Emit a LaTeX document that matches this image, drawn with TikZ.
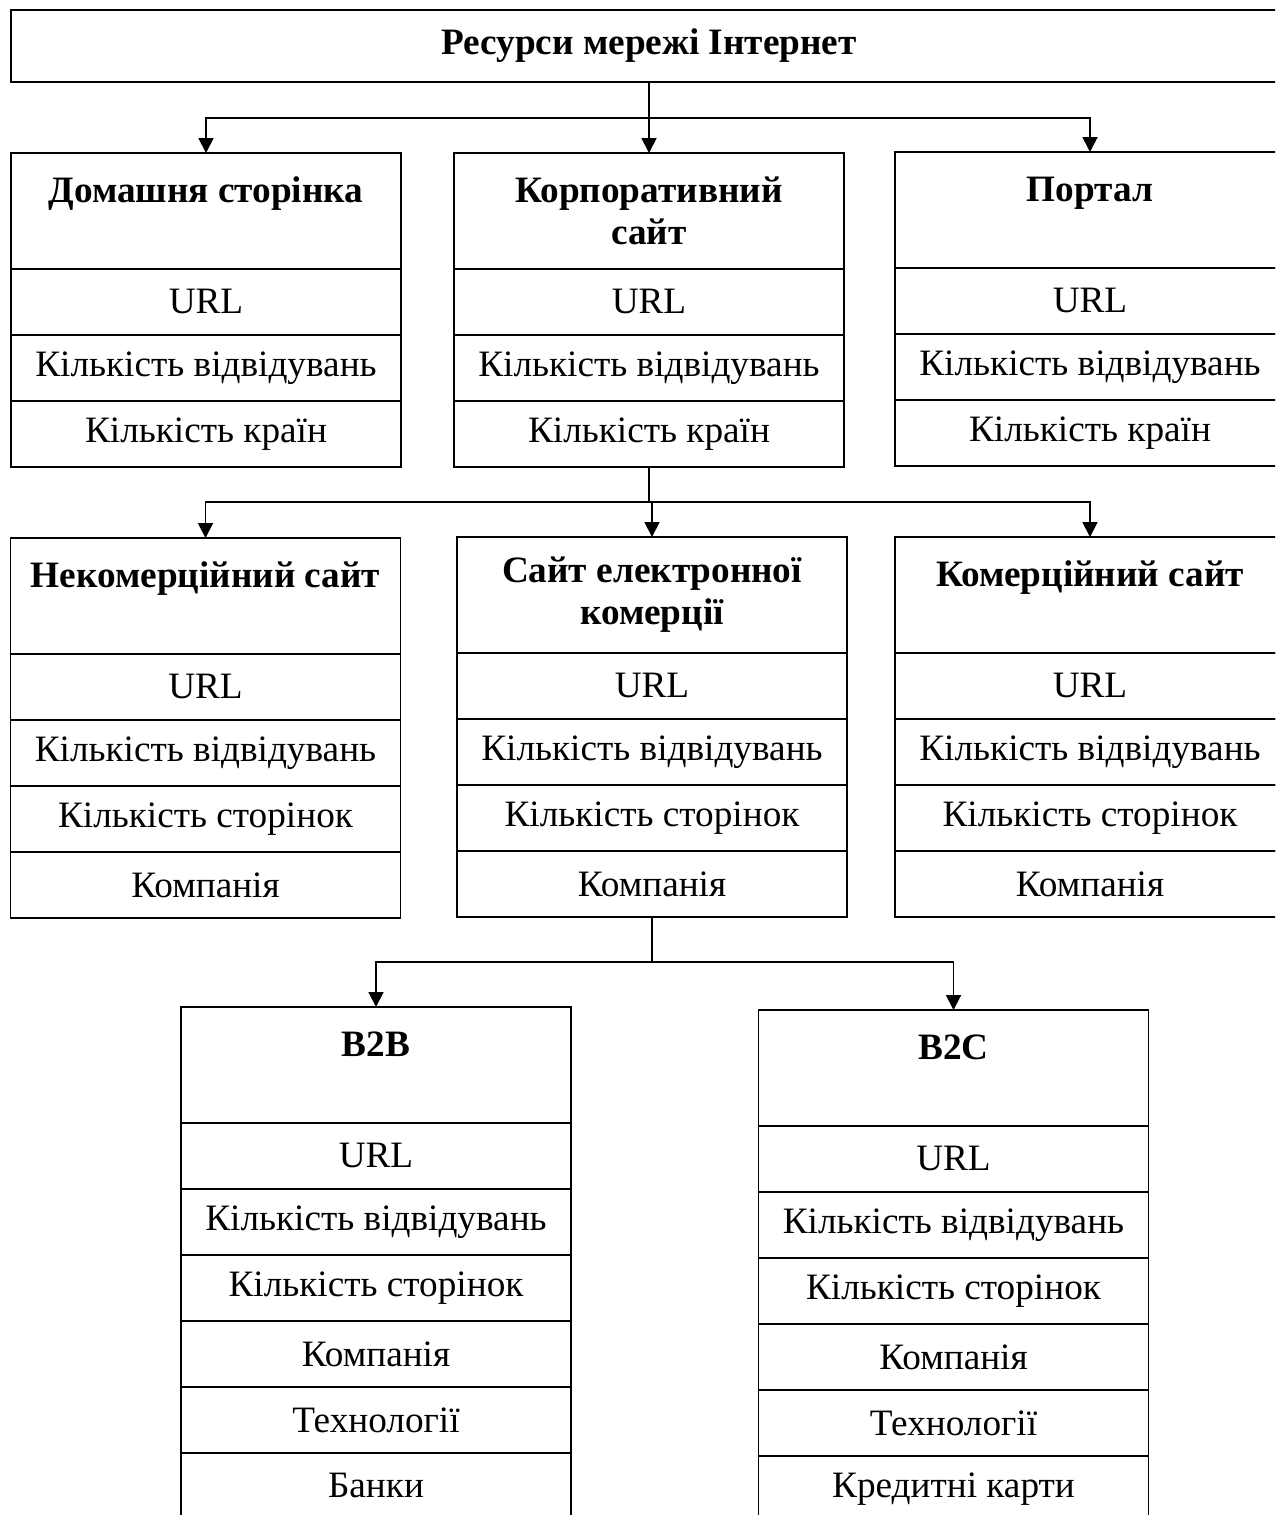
\documentclass[tikz,border=0pt]{standalone}
\usepackage{fontspec}
\setmainfont{Liberation Serif}
\usepackage{tikz}
\usetikzlibrary{arrows.meta,positioning}

\begin{document}
\begin{tikzpicture}[
  x=0.02cm, y=-0.02cm,
  >={Triangle[length=8.5pt,width=8.5pt]},
  node distance=0pt,
  every node/.style={font=\fontsize{21.2}{24}\selectfont},
  title/.style={draw,line width=1.1pt,minimum width=25.52cm,minimum height=1.44cm,inner sep=0pt,outer sep=0pt,font=\fontsize{21.2}{24}\selectfont\bfseries},
  head/.style={draw,line width=1pt,anchor=north,minimum width=7.8cm,minimum height=2.32cm,inner sep=0pt,outer sep=0pt,align=center,font=\fontsize{21.2}{24}\selectfont\bfseries},
  cell/.style={draw,line width=1pt,minimum width=7.8cm,minimum height=1.32cm,inner sep=0pt,outer sep=0pt},
  link/.style={line width=1.1pt}
]
\useasboundingbox (0,0) rectangle (1275,1515);
\clip (0,0) rectangle (1275,1515);

% ---- root ----
\node[title] (root) at (649,46) {Ресурси мережі Інтернет};

% ---- first level ----
\node[head] (home) at (206,153) {Домашня сторінка\\\vphantom{x}};
\node[cell,below=of home] (homeUrl) {URL};
\node[cell,below=of homeUrl] (homeVisits) {Кількість відвідувань};
\node[cell,below=of homeVisits] (homeCountries) {Кількість країн};

\node[head] (corp) at (649,153) {Корпоративний\\сайт};
\node[cell,below=of corp] (corpUrl) {URL};
\node[cell,below=of corpUrl] (corpVisits) {Кількість відвідувань};
\node[cell,below=of corpVisits] (corpCountries) {Кількість країн};

\node[head] (portal) at (1090,152) {Портал\\\vphantom{x}};
\node[cell,below=of portal] (portalUrl) {URL};
\node[cell,below=of portalUrl] (portalVisits) {Кількість відвідувань};
\node[cell,below=of portalVisits] (portalCountries) {Кількість країн};

\coordinate (split1) at (649,118);
\draw[link] (root.south) -- (split1);
\draw[link,->] (split1) -| (home.north);
\draw[link,->] (split1) -| (corp.north);
\draw[link,->] (split1) -| (portal.north);

% ---- second level (under corporate site) ----
\node[head] (noncom) at (205.5,538) {Некомерційний сайт\\\vphantom{x}};
\node[cell,below=of noncom] (noncomUrl) {URL};
\node[cell,below=of noncomUrl] (noncomVisits) {Кількість відвідувань};
\node[cell,below=of noncomVisits] (noncomPages) {Кількість сторінок};
\node[cell,below=of noncomPages] (noncomCompany) {Компанія};

\node[head] (ecom) at (652,537) {Сайт електронної\\комерції};
\node[cell,below=of ecom] (ecomUrl) {URL};
\node[cell,below=of ecomUrl] (ecomVisits) {Кількість відвідувань};
\node[cell,below=of ecomVisits] (ecomPages) {Кількість сторінок};
\node[cell,below=of ecomPages] (ecomCompany) {Компанія};

\node[head] (com) at (1090,537) {Комерційний сайт\\\vphantom{x}};
\node[cell,below=of com] (comUrl) {URL};
\node[cell,below=of comUrl] (comVisits) {Кількість відвідувань};
\node[cell,below=of comVisits] (comPages) {Кількість сторінок};
\node[cell,below=of comPages] (comCompany) {Компанія};

\coordinate (split2) at (649,502);
\draw[link] (corpCountries.south) -- (split2);
\draw[link,->] (split2) -| (noncom.north);
\draw[link,->] (split2 -| ecom.north) -- (ecom.north);
\draw[link,->] (split2) -| (com.north);

% ---- third level (under e-commerce site) ----
\node[head] (btob) at (376,1007) {B2B\\\vphantom{x}};
\node[cell,below=of btob] (btobUrl) {URL};
\node[cell,below=of btobUrl] (btobVisits) {Кількість відвідувань};
\node[cell,below=of btobVisits] (btobPages) {Кількість сторінок};
\node[cell,below=of btobPages] (btobCompany) {Компанія};
\node[cell,below=of btobCompany] (btobTech) {Технології};
\node[cell,below=of btobTech] (btobBanks) {Банки};

\node[head] (btoc) at (953.5,1010) {B2C\\\vphantom{x}};
\node[cell,below=of btoc] (btocUrl) {URL};
\node[cell,below=of btocUrl] (btocVisits) {Кількість відвідувань};
\node[cell,below=of btocVisits] (btocPages) {Кількість сторінок};
\node[cell,below=of btocPages] (btocCompany) {Компанія};
\node[cell,below=of btocCompany] (btocTech) {Технології};
\node[cell,below=of btocTech] (btocCards) {Кредитні карти};

\coordinate (split3) at (652,962);
\draw[link] (ecomCompany.south) -- (split3);
\draw[link,->] (split3) -| (btob.north);
\draw[link,->] (split3) -| (btoc.north);

\end{tikzpicture}
\end{document}
